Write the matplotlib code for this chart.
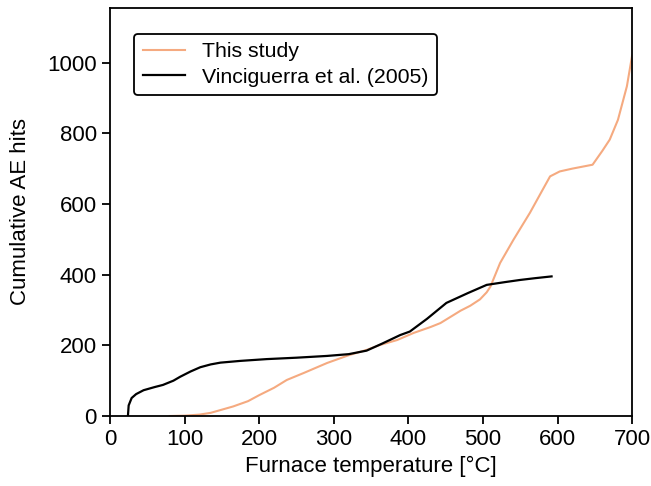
import matplotlib.pyplot as plt

plt.rcParams['font.family'] = ['Liberation Sans', 'DejaVu Sans']

# This study (orange)
study_T = [80, 100, 120, 135, 150, 165, 185, 200, 220, 237, 260, 291, 320, 344,
           362, 385, 407, 430, 443, 460, 470, 483, 496, 505, 510, 523, 541, 563,
           580, 590, 603, 620, 647, 660, 670, 681, 693, 700]
study_hits = [0, 1, 4, 9, 18, 27, 42, 59, 80, 102, 122, 150, 172, 187,
              201, 215, 235, 252, 263, 285, 298, 312, 330, 350, 366, 433, 499, 575,
              640, 678, 692, 700, 711, 750, 782, 838, 933, 1020]

# Vinciguerra et al. (2005) (black)
vinc_T = [24, 25, 29, 35, 45, 60, 71, 85, 94, 108, 121, 135, 148, 175, 210, 250,
          291, 320, 344, 365, 389, 402, 425, 451, 480, 505, 530, 550, 570, 592]
vinc_hits = [0, 30, 51, 62, 73, 82, 88, 100, 111, 126, 138, 146, 151, 156, 161, 165,
             170, 175, 185, 205, 229, 239, 275, 320, 348, 371, 379, 385, 390, 395]

fig = plt.figure(figsize=(6.51, 4.86), dpi=100)
ax = fig.add_axes([0.169, 0.144, 0.802, 0.840])

ax.plot(study_T, study_hits, color='#f5aa80', lw=1.5, label='This study')
ax.plot(vinc_T, vinc_hits, color='black', lw=1.6, label='Vinciguerra et al. (2005)')

ax.set_xlim(0, 700)
ax.set_ylim(0, 1155)
ax.set_xticks(range(0, 701, 100))
ax.set_yticks(range(0, 1001, 200))
ax.tick_params(labelsize=16, width=1.3, length=6)
for s in ax.spines.values():
    s.set_linewidth(1.3)

ax.set_xlabel('Furnace temperature [°C]', fontsize=16)
ax.set_ylabel('Cumulative AE hits', fontsize=16, labelpad=12)

leg = ax.legend(loc='upper left', bbox_to_anchor=(0.046, 0.936), borderaxespad=0,
                fontsize=15.3, frameon=True, fancybox=True, framealpha=1,
                handlelength=2.0, borderpad=0.4, labelspacing=0.3)
leg.get_frame().set_edgecolor('black')
leg.get_frame().set_linewidth(1.3)

fig.savefig('out.png', dpi=100)
